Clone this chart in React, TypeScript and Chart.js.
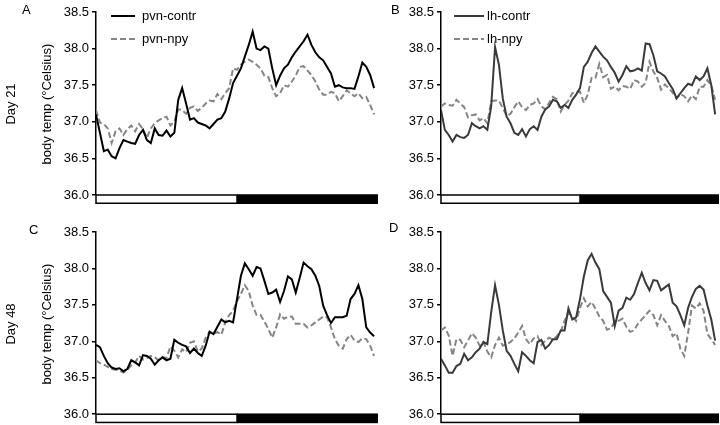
import React, { useEffect, useRef } from "react";
import { Chart, registerables } from "chart.js";
Chart.register(...registerables);

const FONT = '"Liberation Sans", Arial, Helvetica, sans-serif';

// time of day in minutes (20-min bins over 24 h: 12 h light, 12 h dark)
const timeMinutes = Array.from({ length: 72 }, (_, i) => i * 20);
const yTickValues = [36.0, 36.5, 37.0, 37.5, 38.0, 38.5];

const pvnContrDay21 = [37.10,36.85,36.60,36.62,36.53,36.50,36.64,36.75,36.73,36.71,36.70,36.82,36.89,36.75,36.71,36.91,36.82,36.81,36.88,36.80,36.85,37.30,37.46,37.25,37.03,37.05,36.99,36.97,36.95,36.91,36.97,37.03,37.05,37.14,37.32,37.53,37.63,37.73,37.89,38.05,38.23,38.00,37.98,38.03,38.00,37.73,37.50,37.63,37.73,37.78,37.88,37.96,38.03,38.10,38.19,38.05,37.95,37.88,37.84,37.75,37.66,37.48,37.50,37.47,37.46,37.46,37.45,37.62,37.81,37.75,37.64,37.46];
const pvnNpyDay21 = [37.16,36.99,36.97,36.91,36.71,36.87,36.91,36.82,36.90,36.95,36.87,36.97,36.90,36.78,36.91,36.98,37.02,37.05,37.07,36.95,37.00,37.17,37.16,37.11,37.19,37.21,37.15,37.19,37.25,37.29,37.28,37.38,37.31,37.39,37.46,37.73,37.71,37.78,37.82,37.85,37.82,37.78,37.73,37.63,37.61,37.46,37.35,37.39,37.50,37.48,37.55,37.63,37.75,37.76,37.70,37.64,37.55,37.44,37.37,37.37,37.41,37.39,37.28,37.35,37.43,37.39,37.35,37.39,37.32,37.34,37.23,37.10];

const lhContrDay21 = [37.16,36.89,36.82,36.73,36.82,36.79,36.78,36.82,36.98,36.94,36.91,36.94,36.89,37.21,38.02,37.78,37.32,37.07,36.98,36.85,36.82,36.90,36.80,36.90,36.94,36.89,37.07,37.17,37.21,37.30,37.28,37.19,37.23,37.19,37.30,37.37,37.46,37.75,37.82,37.94,38.03,37.96,37.89,37.84,37.75,37.67,37.55,37.64,37.76,37.69,37.70,37.73,37.70,38.07,38.06,37.91,37.69,37.66,37.62,37.53,37.45,37.32,37.39,37.46,37.52,37.50,37.62,37.57,37.62,37.73,37.50,37.10];
const lhNpyDay21 = [37.21,37.25,37.23,37.22,37.30,37.25,37.20,37.06,37.09,37.10,37.02,37.05,36.98,37.28,37.29,37.29,37.19,37.08,37.11,37.20,37.28,37.20,37.16,37.23,37.25,37.31,37.21,37.17,37.26,37.34,37.31,37.14,37.23,37.29,37.39,37.41,37.41,37.26,37.37,37.60,37.60,37.79,37.61,37.64,37.45,37.48,37.43,37.49,37.48,37.45,37.57,37.55,37.48,37.53,37.82,37.69,37.60,37.44,37.51,37.46,37.40,37.32,37.38,37.35,37.28,37.36,37.31,37.48,37.48,37.57,37.50,37.30];

const pvnContrDay48 = [36.95,36.92,36.80,36.70,36.64,36.62,36.63,36.59,36.62,36.74,36.71,36.67,36.81,36.80,36.76,36.68,36.74,36.78,36.74,36.76,37.02,36.98,36.95,36.93,36.84,36.90,36.84,36.80,36.94,37.13,37.10,37.20,37.30,37.26,37.28,37.26,37.58,37.90,38.07,37.99,37.90,38.02,38.00,37.83,37.65,37.67,37.71,37.54,37.69,37.89,37.85,37.67,37.87,38.08,38.03,37.99,37.90,37.76,37.49,37.36,37.25,37.33,37.33,37.33,37.35,37.58,37.65,37.77,37.58,37.19,37.12,37.07];
const pvnNpyDay48 = [36.74,36.70,36.68,36.65,36.62,36.61,36.60,36.57,36.61,36.67,36.71,36.80,36.75,36.77,36.80,36.78,36.74,36.78,36.77,36.93,36.87,36.78,36.89,36.85,36.98,37.00,36.86,36.90,37.05,37.13,37.10,37.13,37.09,37.26,37.36,37.42,37.55,37.65,37.77,37.69,37.49,37.36,37.36,37.27,37.17,37.05,37.19,37.37,37.31,37.34,37.34,37.24,37.24,37.24,37.19,37.22,37.26,37.30,37.34,37.33,37.19,37.03,36.94,36.90,37.03,37.09,37.01,36.99,37.04,37.03,36.94,36.80];

const lhContrDay48 = [36.76,36.67,36.57,36.57,36.66,36.69,36.83,36.74,36.78,36.85,36.90,36.99,36.96,37.40,37.77,37.50,37.15,36.87,36.80,36.69,36.59,36.85,36.80,36.74,36.70,36.99,37.02,36.90,36.95,37.03,37.03,37.15,37.15,37.45,37.30,37.33,37.58,37.89,38.11,38.20,38.08,37.99,37.69,37.61,37.53,37.21,37.42,37.46,37.60,37.57,37.65,37.80,37.94,37.80,37.70,37.84,37.83,37.70,37.74,37.78,37.53,37.48,37.36,37.22,37.46,37.61,37.72,37.76,37.71,37.49,37.30,37.01];
const lhNpyDay48 = [37.15,37.19,37.08,36.80,37.03,37.02,36.92,37.01,37.11,37.05,36.94,36.99,36.86,36.78,36.95,37.05,36.94,36.96,36.99,37.04,37.12,37.21,37.03,36.96,37.04,37.07,36.95,37.01,37.05,37.02,37.07,37.13,37.28,37.39,37.34,37.28,37.46,37.59,37.48,37.54,37.45,37.34,37.28,37.16,37.18,37.27,37.28,37.31,37.20,37.13,37.15,37.24,37.30,37.36,37.42,37.36,37.22,37.36,37.28,37.21,37.07,37.11,36.90,36.80,37.12,37.49,37.45,37.52,37.42,37.10,37.03,36.95];

type LegendCfg = { x0: number; len: number; textX: number; rows: number[] } | null;

type PanelProps = {
  left: number;
  top: number;
  width: number;
  height: number;
  padTop: number;
  padBottom: number;
  padRight: number;
  contr: number[];
  npy: number[];
  contrLabel: string;
  npyLabel: string;
  contrColor: string;
  legend: LegendCfg;
};

function Panel(p: PanelProps) {
  const ref = useRef<HTMLCanvasElement>(null);
  useEffect(() => {
    if (!ref.current) return;
    const barPlugin = {
      id: "ldBar",
      afterDraw(chart: any) {
        const { ctx, chartArea } = chart;
        const { left, right, bottom } = chartArea;
        const mid = (left + right) / 2;
        const h = 9;
        ctx.save();
        ctx.fillStyle = "#000";
        ctx.fillRect(mid, bottom - 0.75, right - mid, h + 0.75);
        ctx.fillStyle = "#fff";
        ctx.fillRect(left, bottom, mid - left, h - 0.75);
        ctx.strokeStyle = "#000";
        ctx.lineWidth = 1.5;
        ctx.strokeRect(left, bottom, mid - left, h - 0.75);
        ctx.restore();
      },
    };
    const legendPlugin = {
      id: "miniLegend",
      afterDraw(chart: any) {
        const cfg = p.legend;
        if (!cfg) return;
        const { ctx, chartArea } = chart;
        ctx.save();
        chart.data.datasets.forEach((ds: any, i: number) => {
          const y = chartArea.top + cfg.rows[i];
          ctx.beginPath();
          ctx.strokeStyle = ds.borderColor;
          ctx.lineWidth = ds.borderWidth;
          ctx.setLineDash(ds.borderDash || []);
          ctx.moveTo(chartArea.left + cfg.x0, y);
          ctx.lineTo(chartArea.left + cfg.x0 + cfg.len, y);
          ctx.stroke();
          ctx.setLineDash([]);
          ctx.fillStyle = "#000";
          ctx.font = `13px ${FONT}`;
          ctx.textBaseline = "middle";
          ctx.textAlign = "left";
          ctx.fillText(ds.label, chartArea.left + cfg.textX, y + 0.5);
        });
        ctx.restore();
      },
    };
    const chart = new Chart(ref.current, {
      type: "line",
      data: {
        datasets: [
          {
            label: p.contrLabel,
            data: timeMinutes.map((x, i) => ({ x, y: p.contr[i] })),
            borderColor: p.contrColor,
            borderWidth: 2,
            pointRadius: 0,
            tension: 0,
          },
          {
            label: p.npyLabel,
            data: timeMinutes.map((x, i) => ({ x, y: p.npy[i] })),
            borderColor: "#858585",
            borderWidth: 2,
            borderDash: [6, 3],
            pointRadius: 0,
            tension: 0,
          },
        ],
      },
      options: {
        animation: false,
        responsive: false,
        events: [],
        layout: { padding: { left: 0, right: p.padRight, top: p.padTop, bottom: p.padBottom } },
        plugins: { legend: { display: false }, tooltip: { enabled: false } },
        scales: {
          x: { type: "linear", min: 0, max: 1440, display: false },
          y: {
            type: "linear",
            min: 36,
            max: 38.5,
            afterFit: (s: any) => {
              s.width = 96;
            },
            afterBuildTicks: (s: any) => {
              s.ticks = yTickValues.map((v) => ({ value: v }));
            },
            ticks: {
              callback: (v: any) => Number(v).toFixed(1),
              color: "#000",
              font: { family: FONT, size: 13 },
              padding: 3,
            },
            grid: { drawOnChartArea: false, color: "#000", lineWidth: 1.5, tickLength: 4 },
            border: { color: "#000", width: 1.5 },
          },
        },
      } as any,
      plugins: [barPlugin, legendPlugin],
    });
    return () => chart.destroy();
  }, []);
  return (
    <canvas
      ref={ref}
      width={p.width}
      height={p.height}
      style={{ position: "absolute", left: p.left, top: p.top, width: p.width, height: p.height }}
    />
  );
}

function Letter({ text, left, top }: { text: string; left: number; top: number }) {
  return (
    <div style={{ position: "absolute", left, top, fontSize: 13, lineHeight: "13px", color: "#000" }}>{text}</div>
  );
}

function VLabel({ text, cx, cy }: { text: string; cx: number; cy: number }) {
  return (
    <div
      style={{
        position: "absolute",
        left: cx,
        top: cy,
        fontSize: 13,
        lineHeight: "15px",
        whiteSpace: "nowrap",
        color: "#000",
        transform: "translate(-50%, -50%) rotate(-90deg)",
      }}
    >
      {text}
    </div>
  );
}

export default function App() {
  return (
    <div
      style={{
        position: "absolute",
        left: 0,
        top: 0,
        width: 720,
        height: 425,
        background: "#fff",
        fontFamily: FONT,
        overflow: "hidden",
      }}
    >
      <Panel
        left={0} top={0} width={380} height={210} padTop={12} padBottom={15} padRight={2}
        contr={pvnContrDay21} npy={pvnNpyDay21} contrLabel="pvn-contr" npyLabel="pvn-npy" contrColor="#000"
        legend={{ x0: 15, len: 24, textX: 46, rows: [4, 27] }}
      />
      <Panel
        left={345} top={0} width={375} height={210} padTop={12} padBottom={15} padRight={1}
        contr={lhContrDay21} npy={lhNpyDay21} contrLabel="lh-contr" npyLabel="lh-npy" contrColor="#3a3a3a"
        legend={{ x0: 13, len: 30, textX: 46, rows: [4, 27] }}
      />
      <Panel
        left={0} top={220} width={380} height={205} padTop={12} padBottom={10} padRight={2}
        contr={pvnContrDay48} npy={pvnNpyDay48} contrLabel="pvn-contr" npyLabel="pvn-npy" contrColor="#000"
        legend={null}
      />
      <Panel
        left={345} top={220} width={375} height={205} padTop={12} padBottom={10} padRight={1}
        contr={lhContrDay48} npy={lhNpyDay48} contrLabel="lh-contr" npyLabel="lh-npy" contrColor="#3a3a3a"
        legend={null}
      />
      <Letter text="A" left={22} top={3} />
      <Letter text="B" left={391} top={3} />
      <Letter text="C" left={29} top={223} />
      <Letter text="D" left={389} top={221} />
      <VLabel text="Day 21" cx={10} cy={104} />
      <VLabel text="Day 48" cx={10} cy={324} />
      <VLabel text="body temp (°Celsius)" cx={46} cy={104} />
      <VLabel text="body temp (°Celsius)" cx={46} cy={324} />
    </div>
  );
}
